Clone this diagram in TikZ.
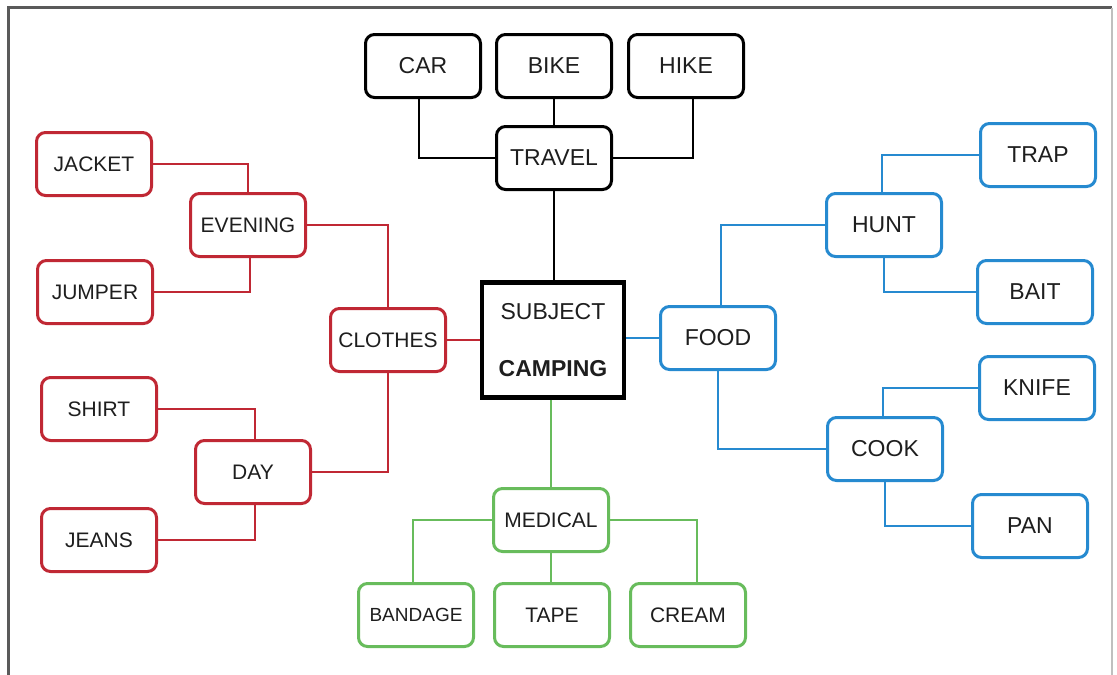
\documentclass[tikz,border=0pt]{standalone}
\usepackage{fontspec}
\setmainfont{Liberation Sans}
\begin{document}
\definecolor{redc}{RGB}{192,40,52}
\definecolor{bluec}{RGB}{38,138,208}
\definecolor{greenc}{RGB}{104,188,92}
\definecolor{txt}{RGB}{30,30,30}
\definecolor{frame}{RGB}{90,90,90}
\begin{tikzpicture}[x=1pt,y=-1pt,
  box/.style={draw,rounded corners=9pt,line width=3pt,minimum width=115pt,
    minimum height=63pt,inner sep=0pt,text=txt,fill=white},
  bigtxt/.style={font=\fontsize{23}{27}\selectfont},
  smalltxt/.style={font=\fontsize{21}{25}\selectfont},
  blackbox/.style={box,draw=black,bigtxt},
  redbox/.style={box,draw=redc,smalltxt},
  bluebox/.style={box,draw=bluec,bigtxt},
  greenbox/.style={box,draw=greenc,smalltxt},
  link/.style={line width=2.2pt}]
\useasboundingbox (0,0) rectangle (1117,675);
% outer frame
\draw[frame,line width=3pt] (8.5,675) -- (8.5,7.5) -- (1112,7.5);
\draw[gray!50,line width=1.5pt] (1112,7.5) -- (1112,675);

% centre
\node[draw=black,line width=4.5pt,minimum width=142pt,minimum height=115pt,
  inner sep=0pt,align=center,bigtxt,text=txt] (subject) at (553,340)
  {SUBJECT\\[30pt]\textbf{CAMPING}};

% travel branch
\node[blackbox] (travel) at (554,158) {TRAVEL};
\node[blackbox] (car) at (423,66) {CAR};
\node[blackbox] (bike) at (554,66) {BIKE};
\node[blackbox] (hike) at (686,66) {HIKE};

% clothes branch
\node[redbox] (clothes) at (388,340) {CLOTHES};
\node[redbox] (evening) at (248,225) {EVENING};
\node[redbox] (jacket) at (94,164) {JACKET};
\node[redbox] (jumper) at (95,292) {JUMPER};
\node[redbox] (day) at (253,472) {DAY};
\node[redbox] (shirt) at (99,409) {SHIRT};
\node[redbox] (jeans) at (99,540) {JEANS};

% food branch
\node[bluebox] (food) at (718,338) {FOOD};
\node[bluebox] (hunt) at (884,225) {HUNT};
\node[bluebox] (trap) at (1038,155) {TRAP};
\node[bluebox] (bait) at (1035,292) {BAIT};
\node[bluebox] (cook) at (885,449) {COOK};
\node[bluebox] (knife) at (1037,388) {KNIFE};
\node[bluebox] (pan) at (1030,526) {PAN};

% medical branch
\node[greenbox] (medical) at (551,520) {MEDICAL};
\node[greenbox,font=\fontsize{19}{23}\selectfont] (bandage) at (416,615) {BANDAGE};
\node[greenbox] (tape) at (552,615) {TAPE};
\node[greenbox] (cream) at (688,615) {CREAM};

% connectors
\draw[link,black] ([xshift=-4pt]car.south) |- (travel.west);
\draw[link,black] (bike.south) -- (travel.north);
\draw[link,black] ([xshift=7pt]hike.south) |- (travel.east);
\draw[link,black] (travel.south) -- (subject.north -| travel.south);

\draw[link,redc] (clothes.east) -- (subject.west);
\draw[link,redc] (jacket.east) -| (evening.north);
\draw[link,redc] (jumper.east) -| ([xshift=2pt]evening.south);
\draw[link,redc] (evening.east) -| (clothes.north);
\draw[link,redc] (clothes.south) |- (day.east);
\draw[link,redc] (shirt.east) -| ([xshift=2pt]day.north);
\draw[link,redc] (jeans.east) -| ([xshift=2pt]day.south);

\draw[link,bluec] (food.west) -- (food.west -| subject.east);
\draw[link,bluec] ([xshift=3pt]food.north) |- (hunt.west);
\draw[link,bluec] (food.south) |- (cook.west);
\draw[link,bluec] ([xshift=-2pt]hunt.north) |- (trap.west);
\draw[link,bluec] (hunt.south) |- (bait.west);
\draw[link,bluec] ([xshift=-2pt]cook.north) |- (knife.west);
\draw[link,bluec] (cook.south) |- (pan.west);

\draw[link,greenc] (subject.south -| medical.north) -- (medical.north);
\draw[link,greenc] (medical.west) -| ([xshift=-3pt]bandage.north);
\draw[link,greenc] (medical.south) -- (tape.north -| medical.south);
\draw[link,greenc] (medical.east) -| ([xshift=9pt]cream.north);
\end{tikzpicture}
\end{document}
